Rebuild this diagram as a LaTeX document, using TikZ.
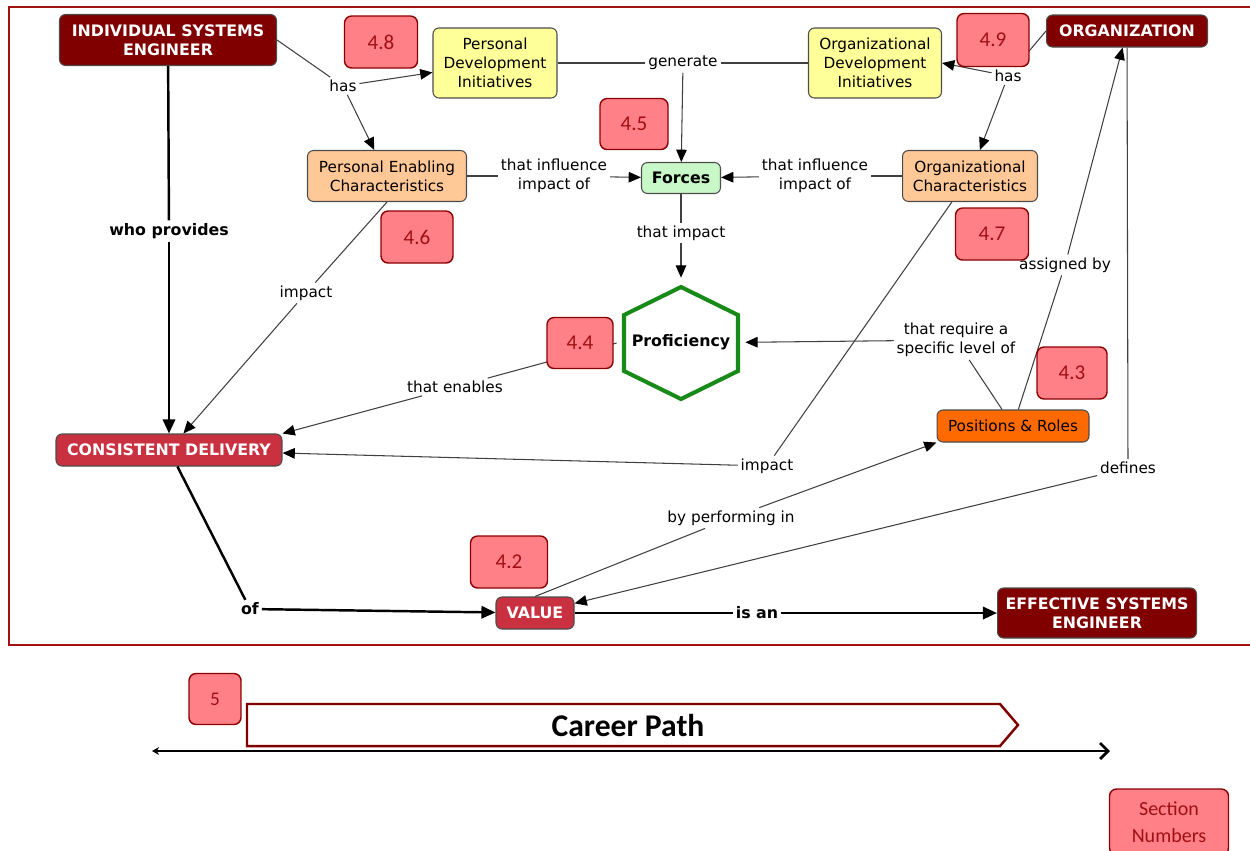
\documentclass[tikz,border=0pt]{standalone}
\usepackage{fontspec}
\setmainfont{DejaVu Sans}
\newfontfamily\calfont{Carlito}
\usetikzlibrary{arrows.meta,calc}
\definecolor{darkred}{HTML}{800000}
\definecolor{crimson}{HTML}{C93040}
\definecolor{secpink}{HTML}{FF8087}
\definecolor{secborder}{HTML}{8B0000}
\definecolor{sectext}{HTML}{A00F14}
\definecolor{lightyellow}{HTML}{FFFF99}
\definecolor{peach}{HTML}{FFC896}
\definecolor{posorange}{HTML}{FF6A00}
\definecolor{forcegreen}{HTML}{C8F7C8}
\definecolor{profgreen}{HTML}{178A17}
\definecolor{framered}{HTML}{A01010}
\newcommand\mylbl{\fontsize{8.7}{10.8}\selectfont}
\newcommand\mybf{\bfseries\fontsize{9}{10.8}\selectfont}
\begin{document}
\begin{tikzpicture}[x=0.02cm,y=-0.02cm,
  box/.style={draw=black!70, rounded corners=3.4pt, align=center, inner sep=0pt, font=\mylbl, line width=0.6pt},
  dbox/.style={box, fill=darkred, text=white, font=\mybf},
  cbox/.style={box, fill=crimson, text=white, font=\mybf},
  ybox/.style={box, fill=lightyellow},
  obox/.style={box, fill=peach},
  secbox/.style={draw=secborder, fill=secpink, rounded corners=4pt, align=center, text=sectext, font=\calfont\fontsize{12}{14}\selectfont, line width=0.8pt, inner sep=0pt},
  lab/.style={font=\mylbl, align=center, inner sep=1.5pt},
  blab/.style={lab, font=\mybf},
  con/.style={draw=black!75, line width=0.6pt},
  arr/.style={con, -{Triangle[length=7pt,width=6pt,color=black]}},
  tcon/.style={draw=black, line width=1.4pt},
  tarr/.style={tcon, -{Triangle[length=8pt,width=7pt]}}
]
\useasboundingbox (0,0) rectangle (1250,850);
% frame
\draw[draw=framered, line width=0.8pt] (9,7) rectangle (1265,645);

% concept nodes
\node[dbox, minimum width=4.34cm, minimum height=1.02cm] (ise) at (168,40) {INDIVIDUAL SYSTEMS\\ENGINEER};
\node[ybox, minimum width=2.48cm, minimum height=1.4cm] (pdi) at (495,63) {Personal\\Development\\Initiatives};
\node[ybox, minimum width=2.66cm, minimum height=1.4cm] (odi) at (875,63) {Organizational\\Development\\Initiatives};
\node[dbox, minimum width=3.22cm, minimum height=0.64cm] (org) at (1127,31) {ORGANIZATION};
\node[box, fill=forcegreen, font=\mybf, minimum width=1.58cm, minimum height=0.62cm] (forces) at (681,178) {Forces};
\node[obox, minimum width=3.18cm, minimum height=1.02cm] (pec) at (387,176) {Personal Enabling\\Characteristics};
\node[obox, minimum width=2.7cm, minimum height=1.02cm] (oc) at (970,176) {Organizational\\Characteristics};
\node[minimum width=2.56cm, minimum height=2.6cm, inner sep=0pt] (prof) at (681,343) {};
\node[box, fill=posorange, minimum width=3.04cm, minimum height=0.64cm] (pr) at (1013,426) {Positions \& Roles};
\node[cbox, minimum width=4.52cm, minimum height=0.64cm] (cd) at (169,450) {CONSISTENT DELIVERY};
\node[cbox, minimum width=1.56cm, minimum height=0.64cm] (value) at (535,613) {VALUE};
\node[dbox, minimum width=3.98cm, minimum height=1.0cm] (ese) at (1097,613) {EFFECTIVE SYSTEMS\\ENGINEER};

% proficiency hexagon
\draw[draw=profgreen, line width=2.3pt, line join=miter, fill=white]
  (681,287) -- (738,315) -- (738,371) -- (681,399) -- (624,371) -- (624,315) -- cycle;
\node[font=\mybf] (proftext) at (681,342) {Proficiency};

% linking phrases
\node[lab] (hasl) at (343,86) {has};
\node[lab] (gen) at (683,63) {generate};
\node[lab] (hasr) at (1008,76) {has};
\node[lab] (infl1) at (554,176) {that influence\\impact of};
\node[lab] (infl2) at (815,176) {that influence\\impact of};
\node[lab] (timp) at (681,233) {that impact};
\node[blab] (who) at (169,231) {who provides};
\node[lab] (imp1) at (306,293) {impact};
\node[lab] (enab) at (455,387) {that enables};
\node[lab] (req) at (956,340) {that require a\\specific level of};
\node[lab] (asg) at (1065,265) {assigned by};
\node[lab] (imp2) at (767,466) {impact};
\node[lab] (def) at (1128,468) {defines};
\node[lab] (perf) at (731,518) {by performing in};
\node[blab] (of) at (250,609) {of};
\node[blab] (isan) at (757,613) {is an};

% connectors
\draw[tcon] (ise) -- (who);
\draw[tarr] (who) -- (cd);
\draw[con] (ise.east) -- (hasl);
\draw[arr] (hasl) -- (pdi);
\draw[arr] (hasl) -- (pec);
\draw[con] (pdi) -- (gen);
\draw[con] (gen) -- (odi);
\draw[arr] (gen) -- (forces);
\draw[con] (org.west) -- (hasr);
\draw[arr] (hasr) -- (odi.east);
\draw[arr] (hasr) -- (oc);
\draw[con] (pec) -- (infl1);
\draw[arr] (infl1) -- (forces);
\draw[con] (oc) -- (infl2);
\draw[arr] (infl2) -- (forces);
\draw[con] (forces) -- (timp);
\draw[arr] (timp) -- (prof);
\draw[con] (pec.south) -- (imp1);
\draw[arr] (imp1) -- (cd);
\draw[con] (prof.west) -- (enab);
\draw[arr] (enab) -- (cd.north east);
\draw[con] (oc) -- (imp2);
\draw[arr] (imp2) -- (cd);
\draw[con] (pr) -- (req);
\draw[arr] (req) -- (prof);
\draw[con] (pr) -- (asg);
\draw[arr] (asg) -- (org);
\draw[con] (org) -- (def);
\draw[arr] (def) -- (value);
\draw[con] (value.north) -- (perf);
\draw[arr] (perf) -- (pr.south west);
\draw[tcon] (cd) -- (of);
\draw[tarr] (of) -- (value);
\draw[tcon] (value) -- (isan);
\draw[tarr] (isan) -- (ese);

% section numbers
\node[secbox, minimum width=1.46cm, minimum height=1.04cm] (s48) at (381,42) {4.8};
\node[secbox, minimum width=1.44cm, minimum height=1.06cm] (s49) at (993,40) {4.9};
\node[secbox, minimum width=1.36cm, minimum height=1.02cm] (s45) at (634,124) {4.5};
\node[secbox, minimum width=1.44cm, minimum height=1.04cm] (s46) at (417,237) {4.6};
\node[secbox, minimum width=1.46cm, minimum height=1.04cm] (s47) at (992,234) {4.7};
\node[secbox, minimum width=1.32cm, minimum height=1.02cm] (s44) at (580,343) {4.4};
\node[secbox, minimum width=1.40cm, minimum height=1.04cm] (s43) at (1072,373) {4.3};
\node[secbox, minimum width=1.54cm, minimum height=1.04cm] (s42) at (509,562) {4.2};
\node[secbox, minimum width=1.04cm, minimum height=1.02cm, font=\calfont\fontsize{11}{13}\selectfont] (s5) at (215,699) {5};
\node[secbox, minimum width=2.38cm, minimum height=1.32cm, font=\calfont\fontsize{11.4}{15}\selectfont] (secn) at (1169,822) {Section\\Numbers};

% career path
\draw[draw=darkred, line width=1.4pt, fill=white, line join=miter]
  (247,704) -- (1000,704) -- (1018,725) -- (1000,746) -- (247,746) -- cycle;
\node[font=\calfont\bfseries\fontsize{18}{20}\selectfont] (cp) at (628,726) {Career Path};
\coordinate (tl) at (152,751);
\coordinate (tr) at (1110,751);
\draw[line width=1.6pt, {Stealth[length=4pt,width=4.5pt]}-{Straight Barb[length=4.5pt,width=9pt,line width=1.6pt]}] (tl) -- (tr);
\end{tikzpicture}
\end{document}
